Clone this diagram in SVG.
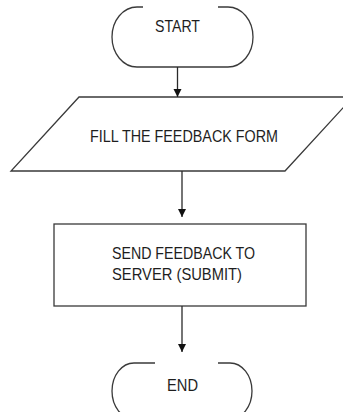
<svg xmlns="http://www.w3.org/2000/svg" width="343" height="412" viewBox="0 0 343 412">
  <defs>
    <style>
      .shape { fill: none; stroke: #3a3a3a; stroke-width: 1.3; }
      .conn { fill: none; stroke: #2a2a2a; stroke-width: 1.3; }
      .label { font-family: "Liberation Sans", Arial, sans-serif; font-size: 17px; fill: #1e1e1e; }
    </style>
    <marker id="arrow" viewBox="0 0 10 10" refX="10" refY="5" markerWidth="8" markerHeight="9" markerUnits="userSpaceOnUse" orient="auto">
      <path d="M0,0 L10,5 L0,10 Z" fill="#111"/>
    </marker>
  </defs>
  <rect width="343" height="412" fill="#ffffff"/>

  <g id="start">
    <path class="shape" d="M218,7 L228,7 A25,30 0 0 1 253,37 A25,30 0 0 1 228,67 L137,67 A25,30 0 0 1 112,37 A25,30 0 0 1 137,7 L143,7"/>
    <text class="label" x="155" y="32" textLength="45" lengthAdjust="spacingAndGlyphs">START</text>
  </g>

  <g id="fill-form">
    <polygon class="shape" points="79,97 353,97 285,171 11,171"/>
    <text class="label" x="90" y="142" textLength="188" lengthAdjust="spacingAndGlyphs">FILL THE  FEEDBACK FORM</text>
  </g>

  <g id="send-feedback">
    <rect class="shape" x="54" y="224" width="252" height="82"/>
    <text class="label" x="112" y="259" textLength="143" lengthAdjust="spacingAndGlyphs">SEND FEEDBACK TO</text>
    <text class="label" x="112" y="280" textLength="130" lengthAdjust="spacingAndGlyphs">SERVER (SUBMIT)</text>
  </g>

  <g id="end">
    <path class="shape" d="M218,363 L230,363 A22,28 0 0 1 252,391 A22,28 0 0 1 230,419 L134,419 A22,28 0 0 1 112,391 A22,28 0 0 1 134,363 L155,363"/>
    <text class="label" x="167" y="391" textLength="31" lengthAdjust="spacingAndGlyphs">END</text>
  </g>

  <g id="connectors">
    <line class="conn" x1="177.5" y1="67" x2="177.5" y2="97" marker-end="url(#arrow)"/>
    <line class="conn" x1="182" y1="171" x2="182" y2="217" marker-end="url(#arrow)"/>
    <line class="conn" x1="182" y1="306" x2="182" y2="352" marker-end="url(#arrow)"/>
  </g>
</svg>
